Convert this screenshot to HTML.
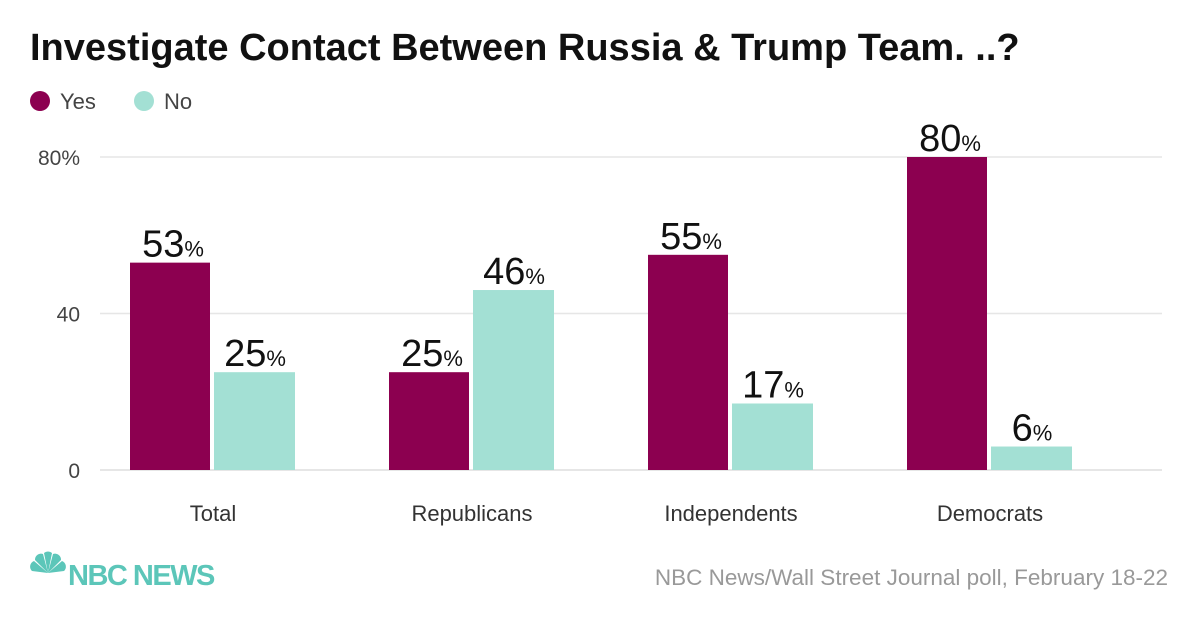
<!DOCTYPE html>
<html><head><meta charset="utf-8"><style>
body{margin:0;background:#fff;font-family:"Liberation Sans",sans-serif;}
#wrap{position:relative;width:1200px;height:630px;overflow:hidden;}
</style></head><body>
<div id="wrap">
<svg id="chart" width="1200" height="630">
<text x="30" y="60" font-size="38" font-weight="bold" fill="#111">Investigate Contact Between Russia &amp; Trump Team. ..?</text>
<g>
<circle cx="40" cy="101" r="10" fill="#8c0050"/>
<text x="60" y="109" font-size="22" fill="#444">Yes</text>
<circle cx="144" cy="101" r="10" fill="#a3e0d4"/>
<text x="164" y="109" font-size="22" fill="#444">No</text>
</g>
<g id="grid"></g><g id="bars"></g>
<g>
<g fill="#5cc6b9" transform="translate(48,575)">
<path d="M0 -2 L-16 -4 A6 6 0 0 1 -14 -14 Z"/>
<path d="M0 -2 L-13 -15 A6 6 0 0 1 -5 -21 Z"/>
<path d="M0 -2 L-4 -22 A6 6 0 0 1 4 -22 Z"/>
<path d="M0 -2 L5 -21 A6 6 0 0 1 13 -15 Z"/>
<path d="M0 -2 L14 -14 A6 6 0 0 1 16 -4 Z"/>
</g>
<text x="68" y="585" font-size="29" font-weight="bold" fill="#5cc6b9" letter-spacing="-1.5">NBC NEWS</text>
</g>
<text x="1168" y="585" font-size="22.5" fill="#999" text-anchor="end">NBC News/Wall Street Journal poll, February 18-22</text>
</svg>
</div>
<script>
const categories=["Total","Republicans","Independents","Democrats"];
const yesValues=[53,25,55,80];
const noValues=[25,46,17,6];
const tickValues=[0,40,80];
const tickLabels=["0","40","80%"];
const NS="http://www.w3.org/2000/svg";
const y0=470,pxPer=313/80;
function yScale(v){return y0-v*pxPer;}
function xCenter(i){return 213+i*259;}
function mk(tag,attrs,parent){const e=document.createElementNS(NS,tag);for(const k in attrs)e.setAttribute(k,attrs[k]);parent.appendChild(e);return e;}
const grid=document.getElementById('grid'),bars=document.getElementById('bars');
tickValues.forEach((t,i)=>{
 const l=mk('line',{x1:100,x2:1162,y1:yScale(t),y2:yScale(t),stroke:i===0?'#ddd':'#e6e6e6','stroke-width':1.5},grid);
 
 
 const tx=mk('text',{x:80,y:yScale(t)+8,'font-size':21,fill:'#444','text-anchor':'end'},grid);
 tx.textContent=tickLabels[i];
 
 
});
function label(x,v,parent){
 const t=mk('text',{x:x,y:yScale(v)-6,'font-size':38,fill:'#111','text-anchor':'middle'},parent);
 t.textContent=v;
 const s=document.createElementNS(NS,'tspan');s.setAttribute('font-size','22');s.textContent='%';t.appendChild(s);
 
 
}
categories.forEach((c,i)=>{
 const cx=xCenter(i);
 const by=mk('rect',{x:cx-83,y:yScale(yesValues[i]),width:80,height:y0-yScale(yesValues[i]),fill:'#8c0050'},bars);
 
 
 const bn=mk('rect',{x:cx+1,y:yScale(noValues[i]),width:81,height:y0-yScale(noValues[i]),fill:'#a3e0d4'},bars);
 
 
 label(cx-40,yesValues[i],bars);label(cx+42,noValues[i],bars);
 const t=mk('text',{x:cx,y:521,'font-size':22,fill:'#333','text-anchor':'middle'},bars);
 t.textContent=c;
 
 
});
</script>
</body></html>
